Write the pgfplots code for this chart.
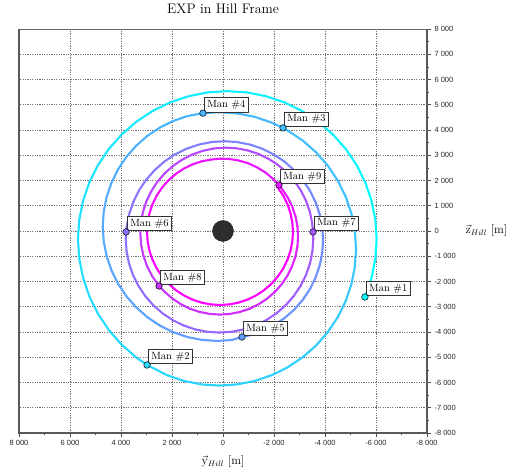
\documentclass[border=0pt]{standalone}
\usepackage{fontspec}
\setsansfont{Liberation Sans}
\usepackage{pgfplots}
\pgfplotsset{compat=1.18}
\usepackage{pgfplotstable}

\pgfplotstableread{
x z c
-5566 -2614 0
-5826 -1852 8
-5975 -1093 15
-6025 -321 23
-5975 444 30
-5826 1196 38
-5580 1922 45
-5241 2609 53
-4815 3247 60
-4310 3823 68
-3734 4328 75
-3097 4754 83
-2410 5093 90
-1685 5339 98
-933 5489 105
-169 5539 113
595 5489 120
1347 5339 128
2072 5093 135
2760 4754 143
3396 4328 150
3972 3823 158
4477 3247 165
4903 2609 173
5242 1922 180
5488 1196 188
5637 444 195
5688 -321 203
5637 -1093 210
5488 -1852 218
5242 -2585 225
4903 -3279 233
4477 -3923 240
3972 -4504 248
3396 -5015 255
2978 -5306 260
}\segA

\pgfplotstableread{
x z c
2978 -5306 260
2192 -5710 270
1528 -5938 277
840 -6076 285
141 -6122 292
-558 -6076 300
-1246 -5938 307
-1910 -5710 315
-2538 -5397 322
-3121 -5004 330
-3648 -4537 337
-4110 -4005 345
-4500 -3415 352
-4810 -2781 360
-5035 -2110 367
-5172 -1415 375
-5218 -709 382
-5172 -3 390
-5035 692 397
-4810 1363 405
-4500 1998 412
-4110 2587 420
-3648 3119 427
-3121 3586 435
-2538 3979 442
-2354 4082 444
-1910 4292 450
-1246 4520 457
-558 4658 465
141 4705 472
785 4666 479
}\segB

\pgfplotstableread{
x z c
785 4666 479
1392 4552 487
1947 4361 495
2474 4099 502
2961 3770 510
3402 3379 517
3789 2934 525
4115 2441 532
4374 1910 540
4563 1348 547
4677 767 555
4716 176 562
4677 -415 570
4563 -996 577
4374 -1558 585
4115 -2089 592
3789 -2582 600
3402 -3027 607
2961 -3418 615
2474 -3747 622
1947 -4009 630
1392 -4200 637
816 -4315 645
231 -4354 652
-354 -4315 660
-745 -4198 665
}\segC

\pgfplotstableread{
x z c
-745 -4198 665
-1056 -4128 669
-1536 -3963 677
-1989 -3737 684
-2410 -3453 692
-2791 -3116 699
-3125 -2731 707
-3406 -2307 714
-3630 -1848 722
-3792 -1364 729
-3891 -862 737
-3924 -352 744
-3891 158 752
-3792 659 759
-3630 1144 767
-3406 1602 774
-3125 2027 782
-2791 2411 789
-2410 2749 797
-1989 3032 804
-1536 3259 812
-1056 3423 819
-560 3523 827
-55 3556 834
450 3523 842
946 3423 849
1426 3259 857
1880 3032 864
2300 2749 872
2681 2411 879
3015 2027 887
3296 1602 894
3520 1144 902
3682 659 909
3781 158 917
3802 -39 920
}\segD

\pgfplotstableread{
x z c
3802 -39 920
3814 -309 924
3782 -794 932
3689 -1270 939
3534 -1731 947
3321 -2166 954
3054 -2570 962
2737 -2936 969
2376 -3256 977
1976 -3526 984
1544 -3741 992
1089 -3897 999
617 -3992 1007
137 -4023 1014
-343 -3992 1022
-814 -3897 1029
-1270 -3741 1037
-1701 -3526 1044
-2102 -3256 1052
-2463 -2936 1059
-2780 -2570 1067
-3047 -2166 1074
-3260 -1731 1082
-3415 -1270 1089
-3508 -794 1097
-3540 -309 1104
-3530 -37 1108
}\segE

\pgfplotstableread{
x z c
-3530 -37 1108
-3494 335 1114
-3401 780 1122
-3251 1209 1129
-3048 1613 1137
-2794 1986 1144
-2495 2323 1152
-2156 2617 1159
-1782 2862 1167
-1380 3056 1174
-957 3195 1182
-521 3277 1189
-78 3301 1197
363 3267 1204
795 3174 1212
1211 3026 1219
1604 2824 1227
1966 2573 1234
2293 2276 1242
2578 1940 1249
2816 1569 1257
3005 1171 1264
3139 752 1272
3219 319 1279
3242 -119 1287
3208 -556 1294
3119 -984 1302
2975 -1396 1309
2779 -1785 1317
2509 -2178 1325
}\segF

\pgfplotstableread{
x z c
2509 -2178 1325
2295 -2403 1331
1993 -2670 1338
1660 -2895 1346
1300 -3075 1353
920 -3205 1361
526 -3284 1368
125 -3311 1376
-275 -3284 1383
-669 -3205 1391
-1050 -3075 1398
-1409 -2895 1406
-1743 -2670 1413
-2045 -2403 1421
-2310 -2098 1428
-2532 -1760 1436
-2710 -1397 1443
-2839 -1012 1451
-2918 -615 1458
-2944 -210 1466
-2918 195 1473
-2839 593 1481
-2710 977 1488
-2532 1340 1496
-2310 1678 1503
-2195 1822 1507
}\segG

\pgfplotstableread{
x z c
-2195 1822 1507
-1965 2064 1513
-1669 2312 1521
-1343 2517 1528
-996 2677 1536
-632 2789 1543
-259 2851 1551
118 2865 1558
491 2826 1566
858 2753 1573
1213 2631 1581
1548 2464 1588
1860 2254 1596
2141 2005 1603
2388 1720 1611
2596 1406 1618
2762 1066 1626
2882 709 1633
2955 337 1641
2979 -40 1648
2955 -417 1656
2882 -788 1663
2762 -1146 1671
2596 -1485 1678
2388 -1800 1686
2141 -2084 1693
1860 -2334 1701
1548 -2543 1708
1213 -2711 1716
858 -2832 1723
491 -2906 1731
118 -2930 1738
-256 -2906 1746
-623 -2832 1753
-977 -2711 1761
-1313 -2543 1768
-1624 -2334 1776
-1906 -2084 1783
-2152 -1800 1791
-2361 -1485 1798
-2526 -1146 1806
-2646 -788 1813
-2719 -417 1821
-2744 -40 1828
-2719 337 1836
-2646 708 1843
-2526 1066 1851
-2361 1406 1858
-2122 1760 1867
}\segH

\pgfplotstableread{
x z c
-5566 -2614 0
2978 -5306 260
-2354 4082 444
785 4666 479
-745 -4198 665
3802 -39 920
-3530 -37 1108
2509 -2178 1325
-2195 1822 1507
}\mantab

\tikzset{
  manlabel/.style={anchor=south west, draw=black!80, line width=0.6pt, fill=white,
    inner xsep=3pt, inner ysep=2.6pt, font=\fontsize{10.5}{12}\selectfont, text=black,
    xshift=1pt, yshift=1pt},
}
\pgfplotsset{
  trajseg/.style={mesh, line width=2.1pt, line cap=round, line join=round, point meta=explicit},
}

\begin{document}
\begin{tikzpicture}
\begin{axis}[
  scale only axis, width=408pt, height=404pt,
  xmin=-8000, xmax=8000, ymin=-8000, ymax=8000,
  x dir=reverse,
  xtick={-8000,-6000,...,8000},
  ytick={-8000,-7000,...,8000},
  minor x tick num=1, minor y tick num=1,
  xtick pos=lower, ytick pos=upper, xticklabel pos=lower, yticklabel pos=upper,
  tick align=outside,
  major tick length=4pt, minor tick length=2pt,
  tick style={black!70, line width=0.6pt},
  grid=major,
  major grid style={black!55, line width=0.5pt, dash pattern=on 1.2pt off 1.2pt},
  axis line style={black!60, line width=0.4pt},
  ticklabel style={font=\fontsize{7.5}{8}\selectfont\sffamily, text=black!85},
  /pgf/number format/assume math mode=true,
  /pgf/number format/1000 sep={\ },
  scaled ticks=false,
  colormap={coolmap}{rgb255=(0,255,255) rgb255=(255,0,255)},
  point meta min=0, point meta max=1700,
  title={EXP in Hill Frame},
  title style={at={(axis description cs:0.5,1)}, anchor=base, yshift=9pt, font=\fontsize{13.8}{16}\selectfont},
  xlabel={$\vec{\mathrm{y}}_{Hill}$ [m]},
  ylabel={$\vec{\mathrm{z}}_{Hill}$ [m]},
  every axis x label/.style={at={(axis description cs:0.5,0)}, anchor=north, yshift=-19pt, font=\large},
  every axis y label/.style={at={(axis description cs:1,0.5)}, anchor=west, xshift=35pt, font=\large},
]
\addplot[only marks, mark=*, mark size=10.5pt, mark options={fill=black!82, draw=black!90}] coordinates {(0,0)};

\addplot[draw=none, mark=none, nodes near coords={Man \#1}, nodes near coords style={manlabel}] coordinates {(-5566,-2614)};
\addplot[trajseg] table[x=x, y=z, meta=c] {\segA};
\addplot[draw=none, mark=none, nodes near coords={Man \#2}, nodes near coords style={manlabel}] coordinates {(2978,-5306)};
\addplot[draw=none, mark=none, nodes near coords={Man \#3}, nodes near coords style={manlabel}] coordinates {(-2354,4082)};
\addplot[trajseg] table[x=x, y=z, meta=c] {\segB};
\addplot[draw=none, mark=none, nodes near coords={Man \#4}, nodes near coords style={manlabel}] coordinates {(785,4666)};
\addplot[trajseg] table[x=x, y=z, meta=c] {\segC};
\addplot[draw=none, mark=none, nodes near coords={Man \#5}, nodes near coords style={manlabel}] coordinates {(-745,-4198)};
\addplot[trajseg] table[x=x, y=z, meta=c] {\segD};
\addplot[draw=none, mark=none, nodes near coords={Man \#6}, nodes near coords style={manlabel}] coordinates {(3802,-39)};
\addplot[trajseg] table[x=x, y=z, meta=c] {\segE};
\addplot[draw=none, mark=none, nodes near coords={Man \#7}, nodes near coords style={manlabel}] coordinates {(-3530,-37)};
\addplot[trajseg] table[x=x, y=z, meta=c] {\segF};
\addplot[trajseg] table[x=x, y=z, meta=c] {\segG};
\addplot[draw=none, mark=none, nodes near coords={Man \#9}, nodes near coords style={manlabel}] coordinates {(-2195,1822)};
\addplot[trajseg] table[x=x, y=z, meta=c] {\segH};
\addplot[draw=none, mark=none, nodes near coords={Man \#8}, nodes near coords style={manlabel}] coordinates {(2509,-2178)};

\addplot[scatter, only marks, mark=*, mark size=3.3pt, point meta=explicit,
  scatter/use mapped color={draw=black, fill=mapped color}, mark options={line width=0.5pt}]
  table[x=x, y=z, meta=c] {\mantab};
\end{axis}
\draw[black!65, line width=1.1pt] (current axis.north west) -- (current axis.south west) -- (current axis.south east) -- (current axis.north east);
\pgfresetboundingbox
\path (current axis.south west) ++(-19pt,-41pt) rectangle ++(512pt,474pt);
\end{tikzpicture}
\end{document}
